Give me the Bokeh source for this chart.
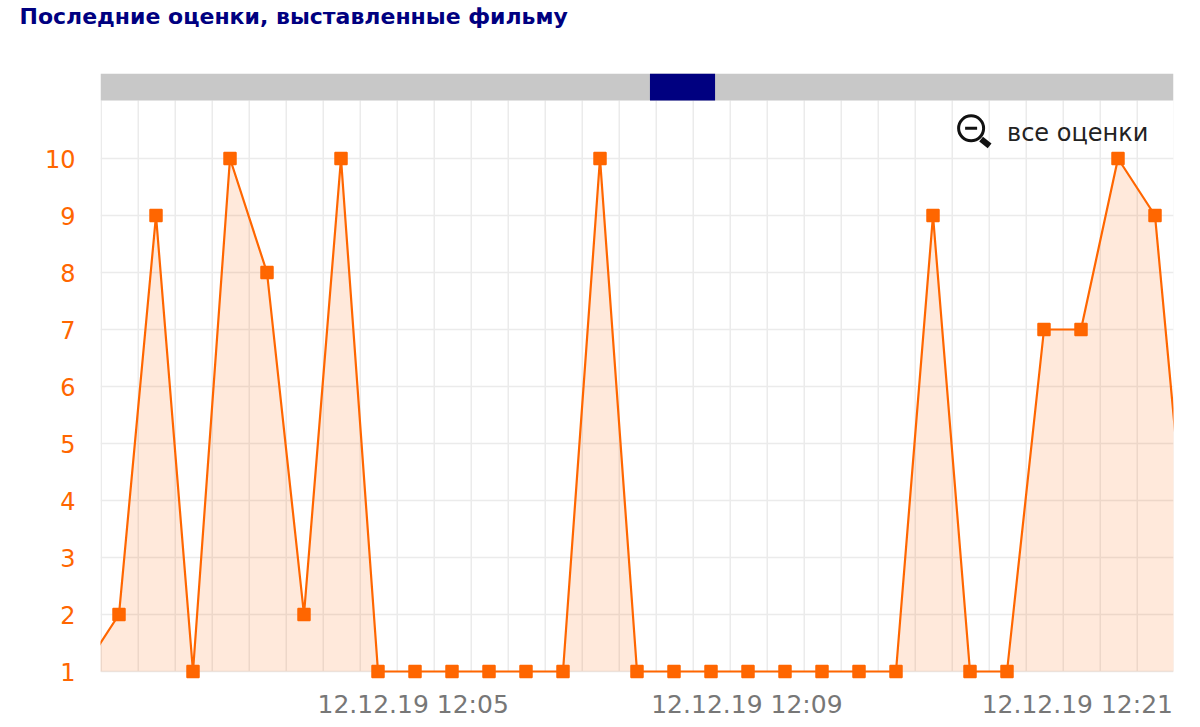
from bokeh.plotting import figure
from bokeh.models import ColumnDataSource, FixedTicker, Label, Range1d, Title
from bokeh.embed import file_html
from bokeh.resources import INLINE

title_text = "Последние оценки, выставленные фильму"
zoom_text = "все оценки"
indices = list(range(-1, 30))
ratings = [1, 2, 9, 1, 10, 8, 2, 10, 1, 1, 1, 1, 1, 1, 10, 1, 1, 1, 1, 1, 1, 1, 1, 9, 1, 1, 7, 7, 10, 9, 2]
y_ticks = [1, 2, 3, 4, 5, 6, 7, 8, 9, 10]
x_tick_positions = [7.95, 16.97, 25.9]
x_tick_labels = ["12.12.19 12:05", "12.12.19 12:09", "12.12.19 12:21"]

ORANGE = "#ff6600"
FONT = "DejaVu Sans"

# plot rectangle: x 101..1174, y 74..680 in page pixels
XMIN, XMAX = -0.5, 28.5
YMIN, YMAX = 1 - 8 / 57, 10 + 85 / 57
SCROLL_BOTTOM = 10 + 58 / 57
THUMB = (14.35, 16.11)

p = figure(width=1184, height=719, frame_width=1073, frame_height=606,
           min_border_left=100, min_border_right=11, min_border_top=0, min_border_bottom=39,
           x_range=Range1d(XMIN, XMAX), y_range=Range1d(YMIN, YMAX),
           output_backend="svg", toolbar_location=None, outline_line_color=None,
           background_fill_color="white", border_fill_color="white")

# an empty title panel keeps the heading well above the plot rectangle
p.add_layout(Title(text=" ", text_font=FONT, text_font_size="22px", standoff=16), "above")
p.add_layout(Title(text=title_text, text_font=FONT, text_font_size="22px", text_font_style="bold",
                   text_color="#000080", align="left", offset=-81, standoff=3), "above")

p.xaxis.ticker = FixedTicker(ticks=x_tick_positions)
p.xaxis.major_label_overrides = dict(zip(x_tick_positions, x_tick_labels))
p.xaxis.major_label_text_color = "#777777"
p.xaxis.major_label_text_font = FONT
p.xaxis.major_label_text_font_size = "25px"
p.xaxis.major_label_standoff = 4
p.yaxis.ticker = FixedTicker(ticks=y_ticks)
p.yaxis.major_label_text_color = ORANGE
p.yaxis.major_label_text_font = FONT
p.yaxis.major_label_text_font_size = "24px"
p.yaxis.major_label_standoff = 19
for ax in (p.xaxis, p.yaxis):
    ax.axis_line_color = None
    ax.major_tick_line_color = None
    ax.minor_tick_line_color = None

# vertical rules stop at the baseline, so they are drawn as segments
rule_x = [XMIN + 0.02] + [i + 0.52 for i in range(0, 29)]
p.xgrid.visible = False
p.segment(x0=rule_x, x1=rule_x, y0=[1] * len(rule_x), y1=[SCROLL_BOTTOM] * len(rule_x),
          line_color="#ebebeb", line_width=1.5, level="underlay")
p.ygrid.ticker = FixedTicker(ticks=y_ticks)
p.ygrid.grid_line_color = "#ebebeb"
p.ygrid.grid_line_width = 1.5

src = ColumnDataSource(dict(x=indices, y=ratings, base=[1] * len(ratings)))
p.varea(x="x", y1="base", y2="y", source=src, fill_color=ORANGE, fill_alpha=0.14)
p.line(x="x", y="y", source=src, line_color=ORANGE, line_width=2.2)
p.scatter(x="x", y="y", source=src, marker="square", size=12, fill_color=ORANGE, line_color=ORANGE, line_width=1.5)

# scrollbar
p.quad(left=[XMIN], right=[XMAX], bottom=[SCROLL_BOTTOM], top=[YMAX], fill_color="#c8c8c8", line_color=None)
p.quad(left=[THUMB[0]], right=[THUMB[1]], bottom=[SCROLL_BOTTOM], top=[YMAX], fill_color="#000080", line_color=None)

# zoom-out icon and its caption
ICON_X, ICON_Y = 23.03, 10.53
p.scatter(x=[ICON_X], y=[ICON_Y], marker="circle", size=25, fill_color=None, line_color="#111111", line_width=3)
p.scatter(x=[ICON_X], y=[ICON_Y], marker="dash", size=12, line_color="#111111", line_width=3)
p.segment(x0=[ICON_X + 0.27], y0=[ICON_Y - 0.19], x1=[ICON_X + 0.5], y1=[ICON_Y - 0.31],
          line_color="#111111", line_width=6)
p.add_layout(Label(x=24.0, y=10.44, text=zoom_text, text_font=FONT, text_font_size="24px",
                   text_color="#222222", text_baseline="middle", text_align="left"))

open("out.html", "w").write(file_html(p, INLINE))
